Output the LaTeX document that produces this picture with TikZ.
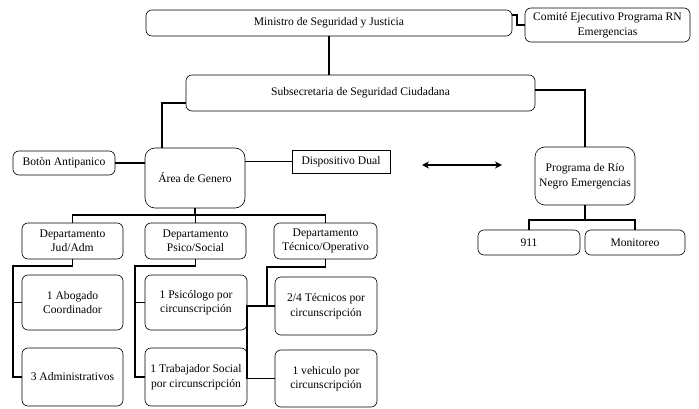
\documentclass[tikz,border=0pt]{standalone}
\usepackage{fontspec}
\setmainfont{Liberation Serif}
\usepackage{tikz}
\usetikzlibrary{arrows.meta}

\tikzset{
	box/.style = {draw, line width = 0.6pt, rounded corners = 6pt, align = center, inner sep = 0pt, font = \fontsize{11.6}{14.5}\selectfont},
	big box/.style = {box, rounded corners = 10pt},
	flat box/.style = {box, sharp corners},
	link/.style = {line width = 1.8pt},
}

\begin{document}
\begin{tikzpicture}[x = 1pt, y = -1pt]
		\def\dw{101};
		\def\dh{36};
		\def\sw{102};
		
		\useasboundingbox (0,0) rectangle (699,409);
		
		\node [box, minimum width = 366, minimum height = 26] (ministro) at (329,23) {Ministro de Seguridad y Justicia};
		\node [box, minimum width = 165, minimum height = 34] (comite) at (607.5,25) {Comité Ejecutivo Programa RN\\Emergencias};
		\node [box, minimum width = 349, minimum height = 36] (subsecretaria) at (360.5,93) {Subsecretaria de Seguridad Ciudadana};
		
		\node [big box, minimum width = 100, minimum height = 60] (area) at (195,178) {Área de Genero};
		\node [box, minimum width = 102, minimum height = 24] (boton) at (64,163) {Botòn Antipanico};
		\node [flat box, minimum width = 98, minimum height = 23] (dispositivo) at (341,161.5) {Dispositivo Dual};
		
		\node [big box, minimum width = 100, minimum height = 58] (programa) at (585,176) {Programa de Río\\Negro Emergencias};
		\node [box, minimum width = 102, minimum height = 25] (emergencias) at (529,242.5) {911};
		\node [box, minimum width = 100, minimum height = 25] (monitoreo) at (635,242.5) {Monitoreo};
		
		\node [box, minimum width = \dw, minimum height = \dh] (jud) at (72.5,241) {Departamento\\Jud/Adm};
		\node [box, minimum width = \dw, minimum height = \dh] (psico) at (195.5,241) {Departamento\\Psico/Social};
		\node [box, minimum width = 103, minimum height = \dh] (tecnico) at (325.5,241) {Departamento\\Técnico/Operativo};
		
		\node [box, minimum width = \dw, minimum height = 55] (abogado) at (72.5,302.5) {1 Abogado\\Coordinador};
		\node [box, minimum width = \dw, minimum height = 58] (administrativos) at (72.5,377) {3 Administrativos};
		\node [box, minimum width = \sw, minimum height = 55] (psicologo) at (196,302.5) {1 Psicólogo por\\circunscripción};
		\node [box, minimum width = \sw, minimum height = 58] (trabajador) at (196,377) {1 Trabajador Social\\por circunscripción};
		\node [box, minimum width = \sw, minimum height = 58] (tecnicos) at (326,306) {2/4 Técnicos por\\circunscripción};
		\node [box, minimum width = \sw, minimum height = 57] (vehiculo) at (326,378.5) {1 vehiculo por\\circunscripción};
		
		\draw [link] (ministro.south) -- (ministro.south |- subsecretaria.north);
		\draw [link] ([yshift = 8pt]ministro.east) -- ++(5,0) |- (comite.west);
		\draw [link] ([yshift = -10pt]subsecretaria.west) -| ([xshift = -33pt]area.north);
		\draw [link] ([yshift = 3pt]subsecretaria.east) -| (programa.north);
		
		\draw [link] (boton.east) -- (boton.east -| area.west);
		\draw [link] (dispositivo.west) -- (dispositivo.west -| area.east);
		
		\coordinate (arrow left) at (422,165);
		\coordinate (arrow right) at (502,165);
		\draw [link, line width = 1.6pt, {Stealth[length = 7pt, width = 7pt]}-{Stealth[length = 7pt, width = 7pt]}] (arrow left) -- (arrow right);
		
		\draw [link] (area.south) -- ++(0,7);
		\draw [link] (jud.north) -- ++(0,-8) -| (tecnico.north);
		\draw [link] (psico.north) -- ++(0,-8);
		
		\draw [link] (programa.south) -- ++(0,15);
		\draw [link] (emergencias.north) -- ++(0,-10) -| (monitoreo.north);
		
		\draw [link] (jud.south) -- ++(0,7) -| ([xshift = -9pt]administrativos.west) -- (administrativos.west);
		\draw [link] (abogado.west) -- ++(-9,0);
		
		\draw [link] (psico.south) -- ++(0,7) -| ([xshift = -10pt]trabajador.west) -- (trabajador.west);
		\draw [link] (psicologo.west) -- ++(-10,0);
		
		\draw [link] (tecnico.south) -- ++(0,8) -| ([xshift = -8pt]tecnicos.west);
		\draw [link] (tecnicos.west) -- (tecnicos.west -| psicologo.east) |- (vehiculo.west);
	\end{tikzpicture}
\end{document}
